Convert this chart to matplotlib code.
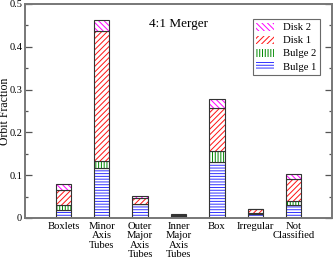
import numpy as np
import matplotlib.pyplot as plt
from matplotlib.ticker import MultipleLocator, FuncFormatter

plt.rcParams['font.family'] = ['Liberation Serif', 'DejaVu Serif']
plt.rcParams['hatch.linewidth'] = 0.7

categories = ['Boxlets', 'Minor\nAxis\nTubes', 'Outer\nMajor\nAxis\nTubes',
              'Inner\nMajor\nAxis\nTubes', 'Box', 'Irregular', 'Not\nClassified']
bulge1 = [0.018, 0.117, 0.032, 0.005, 0.131, 0.010, 0.030]
bulge2 = [0.013, 0.016, 0.001, 0.001, 0.026, 0.001, 0.009]
disk1 = [0.034, 0.304, 0.013, 0.002, 0.099, 0.010, 0.052]
disk2 = [0.014, 0.026, 0.005, 0.002, 0.022, 0.001, 0.012]

series = [('Bulge 1', bulge1, '#3333ff', '------'),
          ('Bulge 2', bulge2, '#008800', '||||||'),
          ('Disk 1', disk1, '#ff1111', '//////'),
          ('Disk 2', disk2, '#ff00ff', '\\\\\\\\\\\\')]

fig = plt.figure(figsize=(3.33, 2.62), dpi=100)
ax = fig.add_axes([0.075, 0.168, 0.922, 0.817])

x = np.arange(1, len(categories) + 1)
bottom = np.zeros(len(categories))
handles = []
for name, vals, col, hatch in series:
    vals = np.array(vals)
    h = ax.bar(x, vals, 0.4, bottom=bottom, facecolor='white',
               edgecolor=col, hatch=hatch, linewidth=0, label=name)
    ax.bar(x, vals, 0.4, bottom=bottom, fill=False,
           edgecolor='#333333', linewidth=0.8)
    handles.append(h)
    bottom += vals

ax.set_xlim(0, 8)
ax.set_ylim(0, 0.5)
ax.set_xticks(x)
ax.set_xticklabels(categories, fontsize=7.7, linespacing=1.03)
ax.tick_params(axis='x', length=0, pad=3)
ax.yaxis.set_major_locator(MultipleLocator(0.1))
ax.yaxis.set_minor_locator(MultipleLocator(0.05))
ax.yaxis.set_major_formatter(FuncFormatter(lambda v, p: '0' if v == 0 else f'{v:.1f}'))
ax.tick_params(axis='y', which='both', direction='in', right=True,
               labelsize=7.5, color='#555555', pad=2)
ax.tick_params(axis='y', which='major', length=5, width=0.9)
ax.tick_params(axis='y', which='minor', length=2.5, width=0.9)
ax.set_ylabel('Orbit Fraction', fontsize=8.5)
ax.yaxis.set_label_coords(-0.047, 0.5)
for s in ax.spines.values():
    s.set_color('#777777')
    s.set_linewidth(1.4)

ax.text(0.5, 0.905, '4:1 Merger', transform=ax.transAxes, fontsize=9.5,
        ha='center', va='center')

leg = ax.legend(handles[::-1], [s[0] for s in series][::-1], loc='upper right',
                bbox_to_anchor=(0.962, 0.93), fontsize=7.7, frameon=True,
                fancybox=False, edgecolor='#444444', handlelength=1.6,
                handleheight=0.8, labelspacing=0.3, borderpad=0.35,
                handletextpad=0.9, borderaxespad=0)
leg.get_frame().set_linewidth(0.8)

fig.savefig('out.png', dpi=100)
